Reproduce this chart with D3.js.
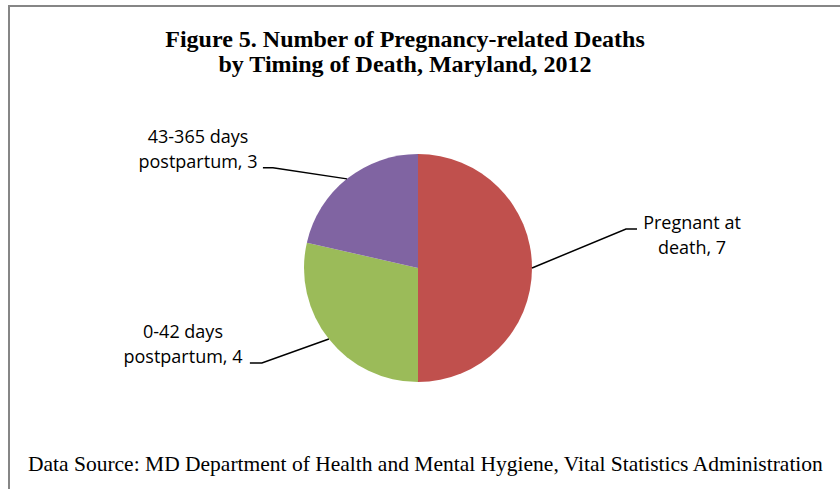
<!DOCTYPE html>
<html>
<head>
<meta charset="utf-8">
<script src="https://cdn.jsdelivr.net/npm/d3@7"></script>
<style>
  html, body { margin: 0; padding: 0; background: #fff; }
  svg { display: block; }
</style>
</head>
<body>
<svg id="chart" width="840" height="489"></svg>
<script>
// ---- data ----
const categories = ["Pregnant at death", "0-42 days postpartum", "43-365 days postpartum"];
const values = [7, 4, 3];
const labelLines = [["Pregnant at", "death, 7"], ["0-42 days", "postpartum, 4"], ["43-365 days", "postpartum, 3"]];
const colors = ["#C0504D", "#9BBB59", "#8064A2"];
const titleLines = ["Figure 5. Number of Pregnancy-related Deaths", "by Timing of Death, Maryland, 2012"];
const sourceText = "Data Source: MD Department of Health and Mental Hygiene, Vital Statistics Administration";

// ---- layout ----
const W = 840, H = 489;
const cx = 418, cy = 268, R = 114;
// leader: elbow offset from slice edge, horizontal run, label anchor
const leaders = [
  { dx: 94, dy: -39, run: 11, tx: 692, ty: 229 },
  { dx: -67, dy: 24, run: -12, tx: 183, ty: 338 },
  { dx: -74, dy: -11, run: -10, tx: 198, ty: 143 }
];

const svg = d3.select("#chart");

// frame
svg.append("path")
  .attr("d", `M9,${H + 2} L9,6 L${W + 2},6`)
  .attr("fill", "none")
  .attr("stroke", "#868686")
  .attr("stroke-width", 2);

// title
svg.append("text")
  .attr("text-anchor", "middle")
  .style("font-family", "'Liberation Serif', 'Times New Roman', serif")
  .style("font-weight", "bold")
  .style("font-size", "24px")
  .attr("fill", "#000")
  .selectAll("tspan").data(titleLines).join("tspan")
  .attr("x", 405).attr("y", (d, i) => 47 + i * 25)
  .text(d => d);

// pie
const pie = d3.pie().sort(null).value(d => d)(values);
const arc = d3.arc().innerRadius(0).outerRadius(R);
const g = svg.append("g").attr("transform", `translate(${cx},${cy})`);
g.selectAll("path.slice").data(pie).join("path")
  .attr("class", "slice")
  .attr("d", arc)
  .attr("fill", (d, i) => colors[i]);

// leader lines & labels
pie.forEach((d, i) => {
  const a = (d.startAngle + d.endAngle) / 2;
  const px = cx + R * Math.sin(a), py = cy - R * Math.cos(a);
  const L = leaders[i];
  const ex = px + L.dx, ey = py + L.dy;
  svg.append("polyline")
    .attr("points", `${px},${py} ${ex},${ey} ${ex + L.run},${ey}`)
    .attr("fill", "none")
    .attr("stroke", "#000")
    .attr("stroke-width", 1.5);
  const t = svg.append("text")
    .attr("text-anchor", "middle")
    .style("font-family", "'Open Sans', 'Noto Sans', sans-serif")
    .style("font-size", "18px")
    .attr("fill", "#000");
  t.selectAll("tspan").data(labelLines[i]).join("tspan")
    .attr("x", L.tx).attr("y", (s, j) => L.ty + j * 25)
    .text(s => s);
});

// source
svg.append("text")
  .attr("x", 28).attr("y", 471)
  .style("font-family", "'Liberation Serif', 'Times New Roman', serif")
  .style("font-size", "21.5px")
  .attr("fill", "#000")
  .text(sourceText);
</script>
</body>
</html>
